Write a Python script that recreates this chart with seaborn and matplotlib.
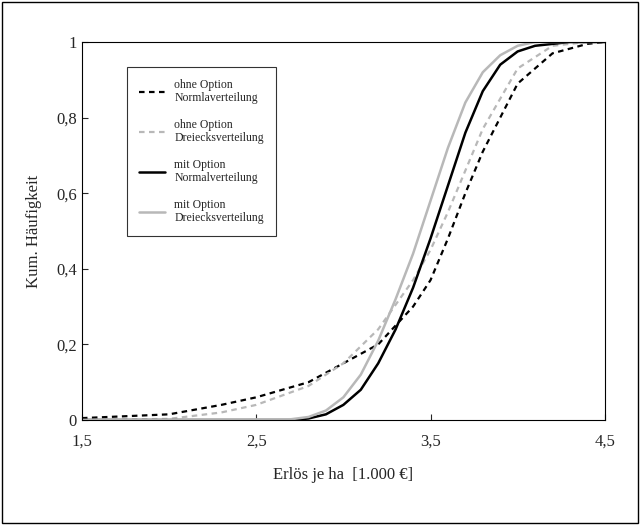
import numpy as np
import matplotlib
matplotlib.use("Agg")
import matplotlib.pyplot as plt
import seaborn as sns
import pandas as pd

# (Erlös je ha in 1.000 €, cumulative frequency)
x_ohne_nv = [1.5, 2.0, 2.3, 2.5, 2.8, 3.0, 3.2, 3.4, 3.5, 3.6, 3.7, 3.8, 4.0, 4.2, 4.4, 4.5]
y_ohne_nv = [0.005, 0.015, 0.04, 0.06, 0.1, 0.15, 0.2, 0.3, 0.37, 0.48, 0.6, 0.71, 0.89, 0.97, 0.995, 1.0]
x_ohne_dv = [1.5, 2.0, 2.3, 2.5, 2.8, 3.0, 3.2, 3.4, 3.5, 3.6, 3.7, 3.8, 4.0, 4.2, 4.4, 4.5]
y_ohne_dv = [0.0, 0.003, 0.02, 0.04, 0.09, 0.15, 0.24, 0.37, 0.45, 0.55, 0.66, 0.77, 0.93, 0.99, 1.0, 1.0]
x_mit_nv = [1.5, 2.7, 2.8, 2.9, 3.0, 3.1, 3.2, 3.3, 3.4, 3.5, 3.6, 3.7, 3.8, 3.9, 4.0, 4.1, 4.3, 4.5]
y_mit_nv = [0.0, 0.0, 0.004, 0.015, 0.04, 0.08, 0.15, 0.24, 0.35, 0.48, 0.62, 0.76, 0.87, 0.94, 0.975, 0.99, 1.0, 1.0]
x_mit_dv = [1.5, 2.7, 2.8, 2.9, 3.0, 3.1, 3.2, 3.3, 3.4, 3.5, 3.6, 3.7, 3.8, 3.9, 4.0, 4.1, 4.5]
y_mit_dv = [0.0, 0.002, 0.008, 0.025, 0.06, 0.12, 0.21, 0.32, 0.44, 0.58, 0.72, 0.84, 0.92, 0.965, 0.99, 1.0, 1.0]

sns.set_style("white")
plt.rcParams['font.family'] = ['Liberation Serif', 'DejaVu Serif']

fig = plt.figure(figsize=(6.4, 5.25), dpi=100)
ax = fig.add_axes([0.128, 0.2, 0.817, 0.72])
fig.patches.append(plt.Rectangle((0.003, 0.003), 0.994, 0.994, transform=fig.transFigure,
                                 fill=False, edgecolor='black', linewidth=1))

sns.lineplot(x=x_ohne_nv, y=y_ohne_nv, ax=ax, color='black', linestyle=(0, (2.5, 2)), lw=1.6,
             label='ohne Option\nNormlaverteilung')
sns.lineplot(x=x_ohne_dv, y=y_ohne_dv, ax=ax, color='#b8b8b8', linestyle=(0, (2.5, 2)), lw=1.6,
             label='ohne Option\nDreiecksverteilung')
sns.lineplot(x=x_mit_nv, y=y_mit_nv, ax=ax, color='black', lw=1.8,
             label='mit Option\nNormalverteilung')
sns.lineplot(x=x_mit_dv, y=y_mit_dv, ax=ax, color='#b8b8b8', lw=1.8,
             label='mit Option\nDreiecksverteilung')

ax.set_xlim(1.5, 4.5)
ax.set_ylim(0, 1)
ax.set_xticks([1.5, 2.5, 3.5, 4.5])
ax.set_xticklabels(['1,5', '2,5', '3,5', '4,5'])
ax.set_yticks([0, 0.2, 0.4, 0.6, 0.8, 1])
ax.set_yticklabels(['0', '0,2', '0,4', '0,6', '0,8', '1'])
ax.tick_params(axis='both', labelsize=12, direction='in', length=4, left=True, bottom=True)
ax.tick_params(axis='x', pad=10)
ax.set_xlabel('Erlös je ha  [1.000 €]', fontsize=12, labelpad=12)
ax.set_ylabel('Kum. Häufigkeit', fontsize=12, labelpad=10)
for s in ax.spines.values():
    s.set_color('black')
    s.set_linewidth(0.8)

leg = ax.legend(loc='upper left', bbox_to_anchor=(0.075, 0.95), fontsize=8.5, frameon=True,
                fancybox=False, edgecolor='black', handlelength=2.2, labelspacing=1.2,
                borderpad=1.0)
leg.get_frame().set_linewidth(0.8)

fig.savefig('out.png', dpi=100)
